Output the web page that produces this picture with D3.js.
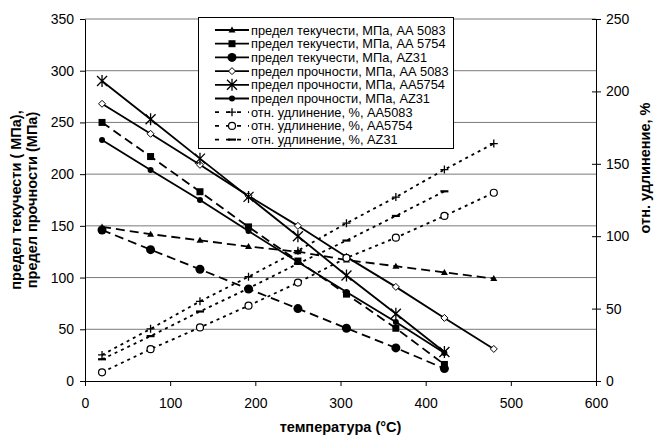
<!DOCTYPE html>
<html>
<head>
<meta charset="utf-8">
<script src="https://cdn.jsdelivr.net/npm/d3@7"></script>
<style>
  body { margin: 0; background: #fff; }
  text { font-family: "Liberation Sans", Arial, sans-serif; }
</style>
</head>
<body>
<svg id="chart"></svg>
<script>
const temps = [20, 77, 135, 192, 250, 307, 365, 422, 480];

const yield5083 = [149, 142, 136, 130, 125, 117, 111, 105, 99];
const yield5754 = [250, 217, 183, 149, 116, 84, 51, 16];
const yieldAZ31 = [146, 127, 108, 89, 70, 51, 32, 12];
const uts5083 = [268, 239, 209, 179, 150, 120, 91, 61, 31];
const uts5754 = [290, 253, 215, 178, 140, 102, 65, 28];
const utsAZ31 = [233, 204, 175, 145, 115, 86, 57, 27];
const elong5083 = [18, 36, 55, 72, 90, 109, 127, 146, 164];
const elong5754 = [6, 22, 37, 52, 68, 85, 99, 114, 130];
const elongAZ31 = [15, 31, 48, 64, 81, 97, 114, 131];

const xTicks = [0, 100, 200, 300, 400, 500, 600];
const leftTicks = [0, 50, 100, 150, 200, 250, 300, 350];
const rightTicks = [0, 50, 100, 150, 200, 250];

const seriesNames = [
  "предел текучести, МПа, АА 5083",
  "предел текучести, МПа, АА 5754",
  "предел текучести, МПа, AZ31",
  "предел прочности, МПа, АА 5083",
  "предел прочности, МПа, АА5754",
  "предел прочности, МПа, AZ31",
  "отн. удлинение, %, АА5083",
  "отн. удлинение, %, АА5754",
  "отн. удлинение, %, AZ31",
];

const size = { width: 654, height: 436 };
const plot = { left: 85, right: 596, top: 19, bottom: 381 };

const svg = d3.select("#chart").attr("width", size.width).attr("height", size.height);

const x = d3.scaleLinear().domain([0, 600]).range([plot.left, plot.right]);
const yL = d3.scaleLinear().domain([0, 350]).range([plot.bottom, plot.top]);
const yR = d3.scaleLinear().domain([0, 250]).range([plot.bottom, plot.top]);

// series: values, axis, line dash, marker type
const series = [
  { v: yield5083, y: yL, dash: "9,5", m: "triangle" },
  { v: yield5754, y: yL, dash: "9,5", m: "square" },
  { v: yieldAZ31, y: yL, dash: "9,5", m: "bigcircle" },
  { v: uts5083, y: yL, dash: null, m: "diamond" },
  { v: uts5754, y: yL, dash: null, m: "star" },
  { v: utsAZ31, y: yL, dash: null, m: "dot" },
  { v: elong5083, y: yR, dash: "3,4", m: "plus" },
  { v: elong5754, y: yR, dash: "3,4", m: "ocircle" },
  { v: elongAZ31, y: yR, dash: "3,4", m: "dash" },
];
series.forEach((s, i) => (s.name = seriesNames[i]));

// gridlines
svg
  .append("g")
  .selectAll("line")
  .data(leftTicks.filter((d) => d > 0))
  .enter()
  .append("line")
  .attr("x1", plot.left)
  .attr("x2", plot.right)
  .attr("y1", (d) => yL(d))
  .attr("y2", (d) => yL(d))
  .attr("stroke", "#7a7a7a")
  .attr("stroke-width", 1);

// axes
const axisStyle = (g) => {
  g.selectAll("path").attr("stroke", "#000");
  g.selectAll("line").attr("stroke", "#000");
  g.selectAll("text")
    .attr("fill", "#000")
    .style("font-size", "14px")
    .style("font-family", '"Liberation Sans", Arial, sans-serif');
};

svg
  .append("g")
  .attr("transform", `translate(0, ${plot.bottom})`)
  .call(d3.axisBottom(x).tickValues(xTicks).tickSize(5).tickSizeOuter(0).tickPadding(12))
  .call(axisStyle);

svg
  .append("g")
  .attr("transform", `translate(${plot.left}, 0)`)
  .call(d3.axisLeft(yL).tickValues(leftTicks).tickSize(5).tickSizeOuter(0).tickPadding(6))
  .call(axisStyle);

const rAxis = svg
  .append("g")
  .attr("transform", `translate(${plot.right}, 0)`)
  .call(d3.axisRight(yR).tickValues(rightTicks).tickSize(5).tickSizeOuter(0).tickPadding(5))
  .call(axisStyle);
rAxis.selectAll(".tick line").attr("x1", -4);

// markers
function marker(g, type, cx, cy) {
  const k = "#000";
  if (type === "triangle") {
    g.append("path").attr("d", `M${cx},${cy - 3.5}L${cx + 3.5},${cy + 2.5}L${cx - 3.5},${cy + 2.5}Z`).attr("fill", k);
  } else if (type === "square") {
    g.append("rect").attr("x", cx - 3.5).attr("y", cy - 3.5).attr("width", 7).attr("height", 7).attr("fill", k);
  } else if (type === "bigcircle") {
    g.append("circle").attr("cx", cx).attr("cy", cy).attr("r", 4.5).attr("fill", k);
  } else if (type === "diamond") {
    g.append("path").attr("d", `M${cx},${cy - 3.5}L${cx + 3.5},${cy}L${cx},${cy + 3.5}L${cx - 3.5},${cy}Z`)
      .attr("fill", "#fff").attr("stroke", k).attr("stroke-width", 1);
  } else if (type === "star") {
    g.append("path")
      .attr("d", `M${cx - 5},${cy - 5}L${cx + 5},${cy + 5}M${cx + 5},${cy - 5}L${cx - 5},${cy + 5}M${cx},${cy - 6}L${cx},${cy + 6}`)
      .attr("stroke", k).attr("stroke-width", 1.3).attr("fill", "none");
  } else if (type === "dot") {
    g.append("circle").attr("cx", cx).attr("cy", cy).attr("r", 3).attr("fill", k);
  } else if (type === "plus") {
    g.append("path").attr("d", `M${cx - 4},${cy}L${cx + 4},${cy}M${cx},${cy - 4}L${cx},${cy + 4}`)
      .attr("stroke", k).attr("stroke-width", 1.3).attr("fill", "none");
  } else if (type === "ocircle") {
    g.append("circle").attr("cx", cx).attr("cy", cy).attr("r", 3.5)
      .attr("fill", "#fff").attr("stroke", k).attr("stroke-width", 1.2);
  } else if (type === "dash") {
    g.append("path").attr("d", `M${cx - 4},${cy}L${cx + 4},${cy}`)
      .attr("stroke", k).attr("stroke-width", 2.2);
  }
}

// series lines + markers
series.forEach((s) => {
  const pts = s.v.map((d, i) => ({ t: temps[i], v: d }));
  const line = d3.line().x((d) => x(d.t)).y((d) => s.y(d.v));
  svg
    .append("path")
    .datum(pts)
    .attr("d", line)
    .attr("fill", "none")
    .attr("stroke", "#000")
    .attr("stroke-width", 1.8)
    .attr("stroke-dasharray", s.dash);
  const mg = svg.append("g");
  pts.forEach((d) => marker(mg, s.m, x(d.t), s.y(d.v)));
});

// legend
const lg = svg.append("g");
lg.append("rect")
  .attr("x", 198.5)
  .attr("y", 17.5)
  .attr("width", 255)
  .attr("height", 131)
  .attr("fill", "#fff")
  .attr("stroke", "#000")
  .attr("stroke-width", 1);

series.forEach((s, i) => {
  const yy = 30 + i * 13.7;
  lg.append("line")
    .attr("x1", 215)
    .attr("x2", 249)
    .attr("y1", yy)
    .attr("y2", yy)
    .attr("stroke", "#000")
    .attr("stroke-width", 1.8)
    .attr("stroke-dasharray", s.dash === "3,4" ? "4,7" : null);
  marker(lg, s.m, 232, yy);
  lg.append("text")
    .attr("x", 251)
    .attr("y", yy + 4.5)
    .style("font-size", "12.8px")
    .text(s.name);
});

// axis titles
svg
  .append("text")
  .attr("transform", `translate(${plot.left + (plot.right - plot.left) / 2}, 432)`)
  .attr("text-anchor", "middle")
  .style("font-size", "14.5px")
  .style("font-weight", "bold")
  .text("температура (°C)");

const lt = svg
  .append("text")
  .attr("transform", "translate(21, 200) rotate(-90)")
  .attr("text-anchor", "middle")
  .style("font-size", "14.5px")
  .style("font-weight", "bold");
lt.append("tspan").attr("x", 0).attr("dy", 0).text("предел текучести ( МПа),");
lt.append("tspan").attr("x", 0).attr("dy", 15.5).text("предел прочности (МПа)");

svg
  .append("text")
  .attr("transform", "translate(650, 168) rotate(-90)")
  .attr("text-anchor", "middle")
  .style("font-size", "14.5px")
  .style("font-weight", "bold")
  .text("отн. удлинение, %");
</script>
</body>
</html>
